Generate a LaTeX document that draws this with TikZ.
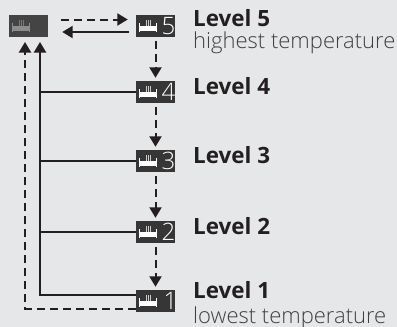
\documentclass[tikz,border=0pt]{standalone}
\usepackage{fontspec}
\setmainfont{Open Sans}
\newfontfamily\digitfont{Open Sans Light}
\usetikzlibrary{arrows.meta}
\definecolor{panelbg}{HTML}{E6E7E8}
\definecolor{boxdark}{HTML}{363636}
\definecolor{boxoff}{HTML}{444444}
\definecolor{linedark}{HTML}{231F20}
\tikzset{
  arr/.style={draw=linedark, line width=2pt, -{Triangle[length=10.5pt,width=12pt]}},
  dasharr/.style={arr, dash pattern=on 8pt off 5pt},
  feed/.style={draw=linedark, line width=2pt},
  levelbox/.style={fill=boxdark, minimum width=39pt, minimum height=22pt, inner sep=0pt},
  offbox/.style={levelbox, fill=boxoff},
  digit/.style={text=white, font=\digitfont\fontsize{24}{24}\selectfont, inner sep=0pt},
  title/.style={anchor=base west, inner sep=0pt, text=linedark, font=\bfseries\fontsize{22.4}{22}\selectfont},
  subtitle/.style={anchor=base west, inner sep=0pt, text=black!75, font=\digitfont\fontsize{22}{22}\selectfont},
  pics/heater/.style={code={
    \fill[#1] (-16.5,-3) rectangle (-15.2,6);
    \fill[#1] (0.2,-3) rectangle (1.5,6);
    \fill[#1] (-16.5,0) rectangle (1.5,5);
    \foreach \dx in {-9.5,-7.5,-5.5}
      \draw[#1, opacity=.75, line width=.7pt] (\dx,-6) -- (\dx,2.5);
  }}
}
\begin{document}
\begin{tikzpicture}[x=1pt,y=-1pt]
  \useasboundingbox[fill=panelbg] (0,0) rectangle (397,327);

  \node[offbox] (off) at (28.5,26){};
  \node[levelbox] (L5) at (155.5,26){};
  \node[levelbox] (L4) at (155.5,92){};
  \node[levelbox] (L3) at (155.5,161){};
  \node[levelbox] (L2) at (155.5,232){};
  \node[levelbox] (L1) at (155.5,301){};

  \pic at (off.center) {heater=black!45};
  \foreach \lev in {L5,L4,L3,L2,L1}
    \pic at (\lev.center) {heater=white};

  \node[digit] (D5) at (168.5,26){5};
  \node[digit] (D4) at (168.5,92){4};
  \node[digit] (D3) at (168.5,161){3};
  \node[digit] (D2) at (168.5,232){2};
  \node[digit] (D1) at (170.5,301){1};

  \coordinate (top1) at (25,42);
  \coordinate (top2) at (40,42);
  \coordinate (corner) at (25,308.5);

  \draw[dasharr, shorten >=8pt] (61,19.5) -- (L5.west |- 0,19.5);
  \draw[arr, shorten <=7pt, shorten >=14pt] (L5.west |- 0,32) -- (off.east |- 0,32);
  \draw[dasharr, shorten <=4pt, shorten >=3pt] (L5.south) -- (L4.north);
  \draw[dasharr, shorten <=4pt, shorten >=3pt] (L4.south) -- (L3.north);
  \draw[dasharr, shorten <=4pt, shorten >=3pt] (L3.south) -- (L2.north);
  \draw[dasharr, shorten <=4pt, shorten >=3pt] (L2.south) -- (L1.north);

  \draw[arr] (L1.west |- 0,295) -- (top2 |- 0,295) -- (top2);
  \draw[feed] (L4.west) -- (top2 |- L4.west);
  \draw[feed] (L3.west) -- (top2 |- L3.west);
  \draw[feed] (L2.west) -- (top2 |- L2.west);
  \draw[dasharr] (L1.west |- corner) -- (corner) -- (top1);

  \node[title] (T5) at (193,26){Level 5};
  \node[subtitle] (S5) at (193,48){highest temperature};
  \node[title] (T4) at (193,94){Level 4};
  \node[title] (T3) at (193,163){Level 3};
  \node[title] (T2) at (193,234){Level 2};
  \node[title] (T1) at (193,298){Level 1};
  \node[subtitle] (S1) at (193,323){lowest temperature};
\end{tikzpicture}
\end{document}
